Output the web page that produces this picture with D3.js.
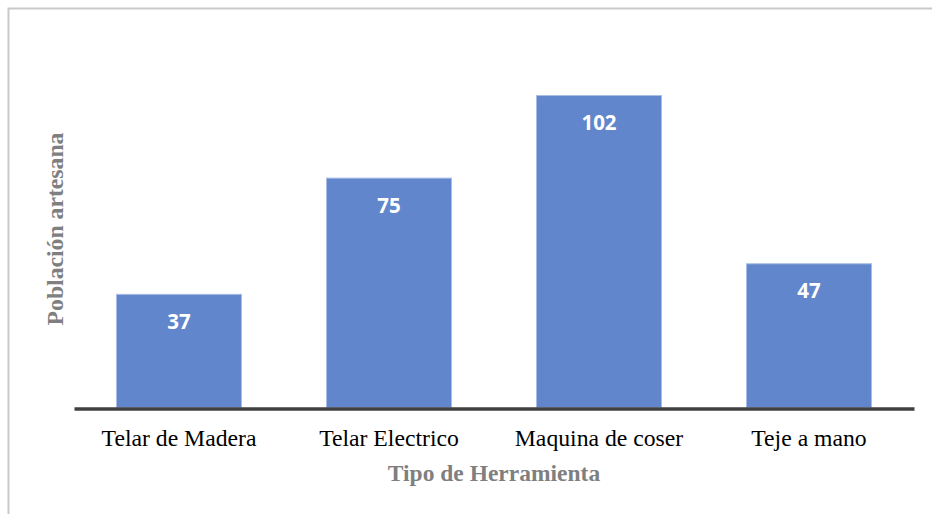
<!DOCTYPE html>
<html>
<head>
<meta charset="utf-8">
<script src="https://cdn.jsdelivr.net/npm/d3@7/dist/d3.min.js"></script>
<style>
  html, body { margin: 0; padding: 0; background: #ffffff; }
  svg { display: block; }
  .cat-label { font-family: "Liberation Serif", "Times New Roman", serif; font-size: 23.7px; fill: #000000; }
</style>
</head>
<body>
<svg id="chart" width="932" height="514"></svg>
<script>
const categories = ["Telar de Madera", "Telar Electrico", "Maquina de coser", "Teje a mano"];
const values = [37, 75, 102, 47];
const xTitle = "Tipo de Herramienta";
const yTitle = "Población artesana";

const svg = d3.select("#chart");
const W = 932, H = 514;
const margin = { left: 74, right: 18, top: 40, bottom: 107 };
const plotBottom = H - margin.bottom;

// outer frame
svg.append("rect")
  .attr("x", 8.5).attr("y", 8.5)
  .attr("width", W + 20).attr("height", H + 20)
  .attr("fill", "none")
  .attr("stroke", "#c9c9c9")
  .attr("stroke-width", 2);

const x = d3.scaleBand()
  .domain(categories)
  .range([margin.left, W - margin.right])
  .paddingInner(0.4)
  .paddingOuter(0.2);

const y = d3.scaleLinear()
  .domain([0, 120])
  .range([plotBottom, margin.top]);

const data = categories.map((c, i) => ({ c, v: values[i] }));

svg.append("g").selectAll("rect")
  .data(data)
  .join("rect")
  .attr("x", d => x(d.c) + 0.5)
  .attr("y", d => y(d.v) + 0.5)
  .attr("width", x.bandwidth() - 1)
  .attr("height", d => y(0) - y(d.v))
  .attr("fill", "#6286cb")
  .attr("stroke", "#a9bce6")
  .attr("stroke-width", 1);

// data labels
svg.append("g").selectAll("text")
  .data(data)
  .join("text")
  .attr("x", d => x(d.c) + x.bandwidth() / 2)
  .attr("y", d => y(d.v) + 35)
  .attr("text-anchor", "middle")
  .style("font-family", "'Open Sans', sans-serif")
  .style("font-weight", "bold")
  .style("font-size", "20.5px")
  .style("fill", "#ffffff")
  .text(d => d.v);

// x axis
const xAxis = d3.axisBottom(x).tickSize(0).tickPadding(0);
const gx = svg.append("g")
  .attr("transform", `translate(0,${plotBottom + 1.5})`)
  .call(xAxis);
gx.attr("font-family", null).attr("font-size", null);
gx.select(".domain")
  .attr("stroke", "#404040")
  .attr("stroke-width", 3.5);
gx.selectAll(".tick text")
  .attr("dy", null)
  .attr("y", 37)
  .attr("class", "cat-label");

// axis titles
svg.append("text")
  .attr("x", (margin.left + W - margin.right) / 2)
  .attr("y", 481)
  .attr("text-anchor", "middle")
  .style("font-family", "'Liberation Serif', 'Times New Roman', serif")
  .style("font-weight", "bold")
  .style("font-size", "23.5px")
  .style("fill", "#7f7f7f")
  .text(xTitle);

svg.append("text")
  .attr("transform", "translate(63,229) rotate(-90)")
  .attr("text-anchor", "middle")
  .style("font-family", "'Liberation Serif', 'Times New Roman', serif")
  .style("font-weight", "bold")
  .style("font-size", "23.7px")
  .style("fill", "#7f7f7f")
  .text(yTitle);
</script>
</body>
</html>
